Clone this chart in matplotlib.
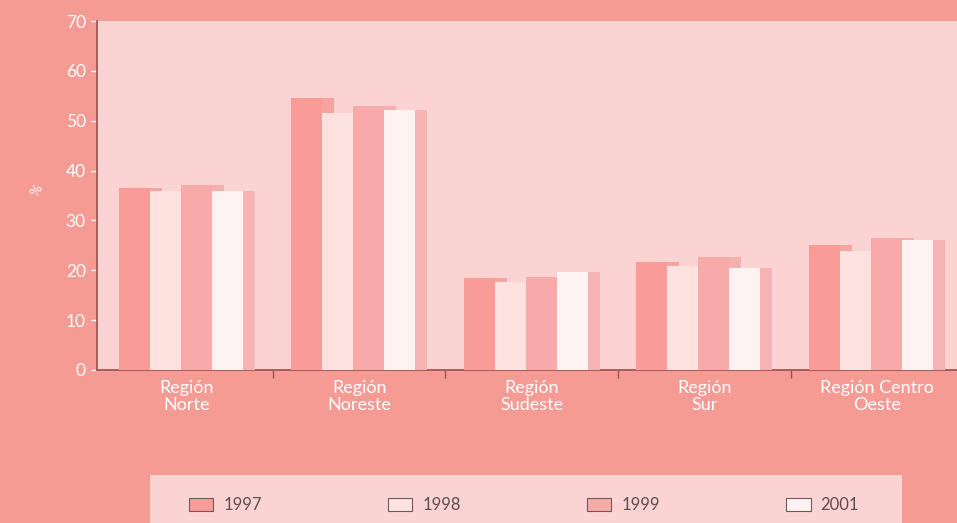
import numpy as np
import matplotlib
matplotlib.use("Agg")
import matplotlib.pyplot as plt
from matplotlib.patches import Rectangle, Patch

# -----------------------------------
# DATA
# -----------------------------------

regions = ["Región\nNorte", "Región\nNoreste", "Región\nSudeste",
           "Región\nSur", "Región Centro\nOeste"]
years = ["1997", "1998", "1999", "2001"]

v1997 = [36.5, 54.5, 18.4, 21.6, 25.0]
v1998 = [36.0, 51.6, 17.6, 20.8, 23.8]
v1999 = [37.2, 53.0, 18.6, 22.6, 26.4]
v2001 = [36.0, 52.2, 19.6, 20.5, 26.0]

series = [v1997, v1998, v1999, v2001]

# -----------------------------------
# STYLE
# -----------------------------------

plt.rcParams["font.family"] = ["Lato", "DejaVu Sans"]

FIG_BG = "#f69a94"
AX_BG = "#fbd3d3"
SPINE = "#9a4f4f"
fronts = ["#f99b97", "#fde2e0", "#f8aaa9", "#fef3f2"]
sides = ["#f6a4a2", "#f8c6c5", "#f4b0af", "#f5b4b3"]

BAR_W = 0.18
DEPTH = 0.07
START = -0.395

fig = plt.figure(figsize=(9.57, 5.23), dpi=100, facecolor=FIG_BG)
ax = fig.add_axes([97 / 957, 1 - 370 / 523, 1 - 97 / 957, 349 / 523])
ax.set_facecolor(AX_BG)

x = np.arange(len(regions))

# -----------------------------------
# BARS (pseudo 3D: side face drawn behind next bar)
# -----------------------------------

for i, vals in enumerate(series):
    left = x + START + i * BAR_W
    ax.bar(left + BAR_W, vals, width=DEPTH, align="edge",
           color=sides[i], zorder=2 + 2 * i, linewidth=0)
    ax.bar(left, vals, width=BAR_W, align="edge",
           color=fronts[i], zorder=3 + 2 * i, linewidth=0)

# -----------------------------------
# AXES
# -----------------------------------

ax.set_xlim(-0.52, 4.465)
ax.set_ylim(0, 70)
ax.set_yticks(range(0, 71, 10))

ax.set_xticks(x)
ax.set_xticklabels(regions, color="white", fontsize=13, linespacing=1.1)
ax.tick_params(axis="x", length=0, pad=7)
ax.set_xticks(x[:-1] + 0.5, minor=True)
ax.tick_params(axis="x", which="minor", length=6, color=SPINE, width=1)

ax.tick_params(axis="y", colors="white", labelsize=12.5, length=4, width=1,
               pad=4)
for t in ax.yaxis.get_ticklines():
    t.set_color(SPINE)

for s in ["top", "right"]:
    ax.spines[s].set_visible(False)
for s in ["left", "bottom"]:
    ax.spines[s].set_color(SPINE)
    ax.spines[s].set_linewidth(1.2)

fig.text(37 / 957, 1 - 190 / 523, "%", color="white", fontsize=10,
         rotation=60, ha="center", va="center")

# -----------------------------------
# LEGEND
# -----------------------------------

fig.patches.append(Rectangle((150 / 957, -0.05), 752 / 957, 0.05 + 48 / 523,
                             transform=fig.transFigure, facecolor=AX_BG,
                             edgecolor="none", zorder=0))

handles = [Patch(facecolor=fronts[i], edgecolor="#6e5a5a", linewidth=0.8)
           for i in range(len(years))]
fig.legend(handles, years, ncol=4, frameon=False, mode="expand",
           loc="center", bbox_to_anchor=(174 / 957, 0.0, 700 / 957, 0.068),
           fontsize=12, handlelength=1.45, handleheight=0.85,
           handletextpad=0.6, labelcolor="#5f4d4d")

plt.savefig("out.png", dpi=100, facecolor=FIG_BG)
plt.close()
